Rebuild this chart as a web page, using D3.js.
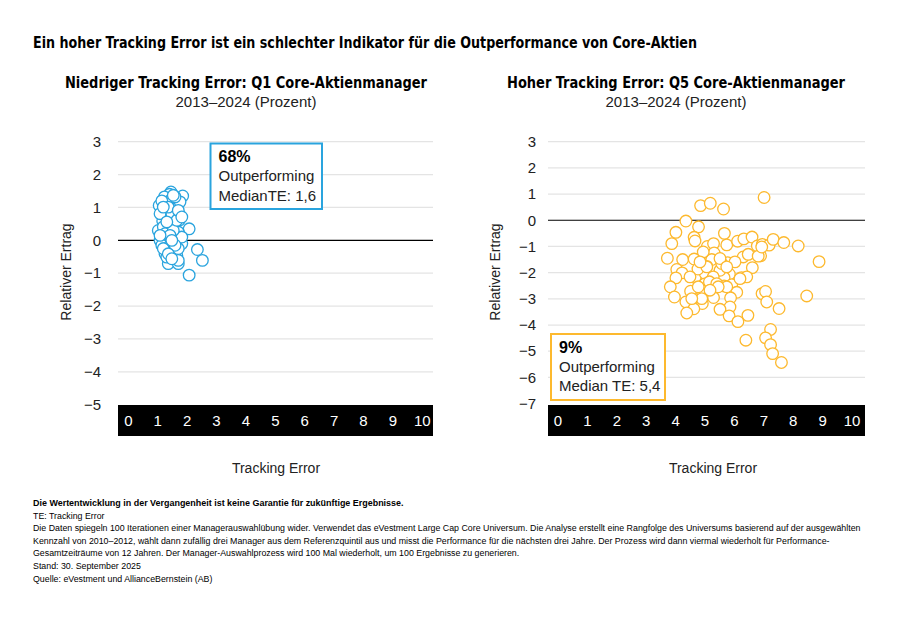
<!DOCTYPE html>
<html><head><meta charset="utf-8">
<script src="https://cdn.jsdelivr.net/npm/d3@7"></script>
<style>
html,body{margin:0;padding:0;background:#fff;}
svg{display:block;}
</style></head>
<body>
<svg id="chart" width="910" height="630"></svg>
<script>
// ---------- DATA ----------
const mainTitle = "Ein hoher Tracking Error ist ein schlechter Indikator für die Outperformance von Core-Aktien";
const panelTitles = ["Niedriger Tracking Error: Q1 Core-Aktienmanager", "Hoher Tracking Error: Q5 Core-Aktienmanager"];
const panelSubtitle = "2013–2024 (Prozent)";
const xLabel = "Tracking Error";
const yLabel = "Relativer Ertrag";
const xTicks = [0,1,2,3,4,5,6,7,8,9,10];
const q1YTicks = [3,2,1,0,-1,-2,-3,-4,-5];
const q5YTicks = [3,2,1,0,-1,-2,-3,-4,-5,-6,-7];
const q1Box = ["68%", "Outperforming", "MedianTE: 1,6"];
const q5Box = ["9%", "Outperforming", "Median TE: 5,4"];

const q1TE = [1.45,1.40,1.23,1.85,1.45,1.05,1.31,1.57,1.20,1.65,1.17,1.73,2.07,1.36,1.19,1.53,1.82,1.08,1.25,1.50,
              1.65,1.36,1.70,2.35,2.52,2.07,1.14,1.42,1.02,1.36,1.59,1.70,1.19,1.48,1.08,1.76,1.14,1.59,1.70,1.31,
              1.82,1.76,1.25,1.53,1.36,1.59,1.19,1.70,1.53,1.65,1.42,1.08,1.19,1.70,1.31,1.59,1.36,1.48,1.82,1.48];
const q1Return = [1.47,1.40,1.32,1.35,1.23,1.06,1.11,0.94,0.90,0.99,0.59,0.61,0.35,0.41,0.10,0.10,-0.10,0.00,-0.41,-0.28,
              -0.46,-0.71,-0.71,-0.28,-0.61,-1.06,-0.15,-0.15,0.30,0.71,0.51,0.25,0.41,0.81,0.81,1.17,1.20,-0.49,-0.61,-0.51,
              0.10,0.76,0.20,0.30,1.01,1.32,-0.25,-0.25,1.37,0.61,0.15,0.15,1.01,0.91,0.56,-0.15,-0.41,-0.56,0.71,0.00];

const q5TE = [7.01,4.85,5.18,5.63,4.35,4.78,4.01,4.63,4.66,3.87,5.66,5.08,5.29,5.74,6.11,6.32,6.60,6.78,6.95,7.18,
              7.32,7.68,8.17,8.88,3.72,4.24,4.63,4.85,5.28,5.31,5.23,5.06,5.77,6.30,6.47,6.89,6.61,4.04,4.22,4.01,
              4.67,5.01,5.48,5.83,5.65,6.24,6.42,3.82,4.99,5.20,5.65,5.91,4.51,4.89,6.08,3.96,4.35,4.91,5.29,5.87,
              5.85,5.51,4.62,4.38,5.82,6.12,6.46,6.94,7.06,7.10,7.52,8.46,7.23,7.06,6.39,7.23,7.30,7.60,4.76,5.06,
              5.51,5.28,5.15,5.40,4.77,5.74,4.49,5.57,6.02,6.81,5.51,4.94,6.93,5.74,4.89,4.55,4.83,5.45,6.19,5.17];
const q5Return = [0.87,0.56,0.65,0.43,-0.03,-0.25,-0.46,-0.65,-0.79,-0.89,-0.50,-1.00,-0.89,-0.94,-0.80,-0.71,-0.64,-0.98,-0.92,-0.95,
              -0.73,-0.85,-0.98,-1.58,-1.45,-1.50,-1.48,-1.62,-1.35,-1.25,-1.50,-1.76,-1.62,-1.40,-1.30,-1.36,-1.81,-1.88,-2.01,-2.20,
              -2.18,-2.04,-2.04,-2.06,-2.19,-2.19,-2.16,-2.54,-2.43,-2.39,-2.51,-2.46,-2.71,-2.68,-2.75,-2.93,-3.12,-3.18,-2.95,-2.96,
              -3.31,-3.40,-3.38,-3.54,-3.65,-3.87,-3.63,-2.80,-2.72,-3.12,-3.37,-2.89,-4.17,-4.49,-4.58,-4.75,-5.09,-5.43,-1.86,-1.78,
              -1.91,-2.16,-2.35,-2.42,-2.54,-2.54,-2.16,-1.65,-1.59,-1.37,-1.46,-1.21,-1.02,-1.78,-2.99,-2.99,-1.59,-2.54,-2.23,-2.67];

const footBold = "Die Wertentwicklung in der Vergangenheit ist keine Garantie für zukünftige Ergebnisse.";
const footLines = [
  "TE: Tracking Error",
  "Die Daten spiegeln 100 Iterationen einer Managerauswahlübung wider. Verwendet das eVestment Large Cap Core Universum. Die Analyse erstellt eine Rangfolge des Universums basierend auf der ausgewählten",
  "Kennzahl von 2010–2012, wählt dann zufällig drei Manager aus dem Referenzquintil aus und misst die Performance für die nächsten drei Jahre. Der Prozess wird dann viermal wiederholt für Performance-",
  "Gesamtzeiträume von 12 Jahren. Der Manager-Auswahlprozess wird 100 Mal wiederholt, um 100 Ergebnisse zu generieren.",
  "Stand: 30. September 2025",
  "Quelle: eVestment und AllianceBernstein (AB)"
];

// ---------- RENDER ----------
const svg = d3.select("#chart");
const SANS = "'Liberation Sans', Arial, Helvetica, sans-serif";
const NARROW = "'DejaVu Sans Condensed', 'Liberation Sans', sans-serif";
const fmt = v => v < 0 ? "\u2212" + Math.abs(v) : String(v);

function fit(sel, w) {
  const n = sel.node();
  const len = n.getComputedTextLength();
  if (len > 0 && Math.abs(len - w) > 1) sel.attr("textLength", w).attr("lengthAdjust", "spacingAndGlyphs");
  return sel;
}

// main title
fit(svg.append("text").attr("x", 33).attr("y", 48)
  .attr("font-family", NARROW).attr("font-weight", "bold").attr("font-size", 16).attr("fill", "#000")
  .text(mainTitle), 664);

const panels = [
  { te: q1TE, ret: q1Return, yTicks: q1YTicks, yDom: [-5, 3], color: "#2aa4de", box: q1Box,
    x0: 118, x1: 433, xr: [128.3, 422.3], yr: [404.7, 141.7], cx: 246, titleW: 362,
    boxR: [210.5, 143.5, 111.5, 65.5], yLab: 71, tickEnd: 101, xTitle: 276 },
  { te: q5TE, ret: q5Return, yTicks: q5YTicks, yDom: [-7, 3], color: "#fdb92e", box: q5Box,
    x0: 548, x1: 865, xr: [558, 852], yr: [403.6, 141.7], cx: 676, titleW: 338,
    boxR: [551, 334, 114, 66], yLab: 500, tickEnd: 536, xTitle: 713 }
];

panels.forEach((p, i) => {
  const g = svg.append("g");
  const x = d3.scaleLinear().domain([0, 10]).range(p.xr);
  const y = d3.scaleLinear().domain(p.yDom).range(p.yr);

  fit(g.append("text").attr("x", p.cx).attr("y", 88).attr("text-anchor", "middle")
    .attr("font-family", NARROW).attr("font-weight", "bold").attr("font-size", 16).attr("fill", "#000")
    .text(panelTitles[i]), p.titleW);
  g.append("text").attr("x", p.cx).attr("y", 107).attr("text-anchor", "middle")
    .attr("font-family", SANS).attr("font-size", 15).attr("fill", "#222")
    .text(panelSubtitle);

  g.append("g").selectAll("line").data(p.yTicks.filter(t => t !== 0 && t !== p.yDom[0])).join("line")
    .attr("x1", p.x0).attr("x2", p.x1)
    .attr("y1", d => y(d)).attr("y2", d => y(d))
    .attr("stroke", "#e4e4e4").attr("stroke-width", 1.2);
  g.append("line").attr("x1", p.x0).attr("x2", p.x1).attr("y1", y(0)).attr("y2", y(0))
    .attr("stroke", "#000").attr("stroke-width", 1.2);

  g.append("g").selectAll("text").data(p.yTicks).join("text")
    .attr("x", p.tickEnd).attr("y", d => y(d)).attr("dy", "0.35em")
    .attr("text-anchor", "end").attr("font-family", SANS).attr("font-size", 15).attr("fill", "#222")
    .text(fmt);

  const pts = p.te.map((t, k) => ({ t, r: p.ret[k] }));
  g.append("g").selectAll("circle").data(pts).join("circle")
    .attr("cx", d => x(d.t)).attr("cy", d => y(d.r)).attr("r", 5.8)
    .attr("fill", "#fff").attr("stroke", p.color).attr("stroke-width", 1.3);

  const [bx, by, bw, bh] = p.boxR;
  g.append("rect").attr("x", bx).attr("y", by).attr("width", bw).attr("height", bh)
    .attr("fill", "#fff").attr("stroke", p.color).attr("stroke-width", 2);
  g.append("text").attr("x", bx + 8).attr("y", by + 18.5)
    .attr("font-family", SANS).attr("font-weight", "bold").attr("font-size", 16).attr("fill", "#000")
    .text(p.box[0]);
  g.append("text").attr("x", bx + 8).attr("y", by + 37.5)
    .attr("font-family", SANS).attr("font-size", 15).attr("fill", "#222").text(p.box[1]);
  g.append("text").attr("x", bx + 8).attr("y", by + 57)
    .attr("font-family", SANS).attr("font-size", 15).attr("fill", "#222").text(p.box[2]);

  g.append("rect").attr("x", p.x0).attr("y", 405).attr("width", p.x1 - p.x0).attr("height", 31).attr("fill", "#000");
  g.append("g").selectAll("text").data(xTicks).join("text")
    .attr("x", d => x(d)).attr("y", 426).attr("text-anchor", "middle")
    .attr("font-family", SANS).attr("font-size", 15).attr("fill", "#fff")
    .text(fmt);

  g.append("text").attr("x", p.xTitle).attr("y", 473).attr("text-anchor", "middle")
    .attr("font-family", SANS).attr("font-size", 14).attr("fill", "#222").text(xLabel);
  g.append("text").attr("transform", `translate(${p.yLab},272) rotate(-90)`).attr("text-anchor", "middle")
    .attr("font-family", SANS).attr("font-size", 14).attr("fill", "#222").text(yLabel);
});

// footnotes: Liberation Sans, uniformly narrowed so the longest line spans like the reference
const foot = svg.append("g");
const boldT = foot.append("text").attr("font-family", SANS).attr("font-weight", "bold")
  .attr("font-size", 9.5).attr("fill", "#000").text(footBold);
const bs = 371 / boldT.node().getComputedTextLength();
boldT.attr("transform", `translate(33,506) scale(${bs},1)`);

const lines = footLines.map(t => foot.append("text").attr("font-family", SANS)
  .attr("font-size", 9.5).attr("fill", "#000").text(t));
const s = 829 / lines[1].node().getComputedTextLength();
lines.forEach((l, k) => l.attr("transform", `translate(33,${518.5 + k * 12.6}) scale(${s},1)`));
</script>
</body></html>
